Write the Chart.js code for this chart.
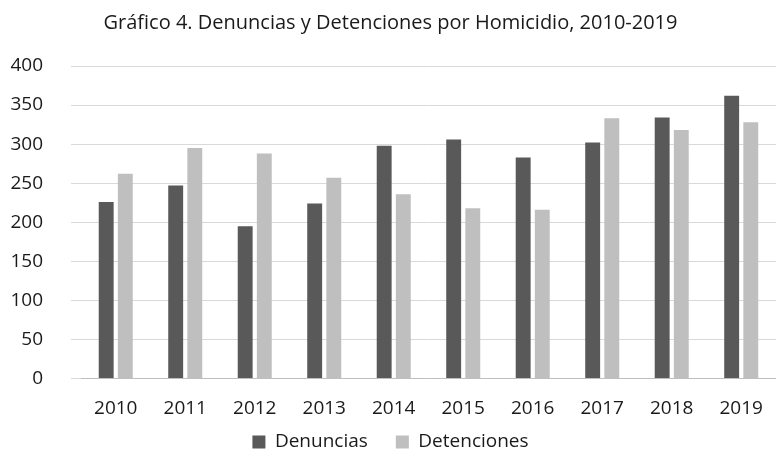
<!DOCTYPE html>
<html>
<head>
<meta charset="utf-8">
<script src="https://cdn.jsdelivr.net/npm/chart.js@4.4.1/dist/chart.umd.min.js"></script>
<style>
  html, body { margin: 0; padding: 0; background: #fff; }
  #wrap { width: 782px; height: 450px; }
</style>
</head>
<body>
<div id="wrap"><canvas id="chart"></canvas></div>
<script>
// DATA
const years = ['2010', '2011', '2012', '2013', '2014', '2015', '2016', '2017', '2018', '2019'];
const denuncias = [226, 247, 195, 224, 298, 306, 283, 302, 334, 362];
const detenciones = [262, 295, 288, 257, 236, 218, 216, 333, 318, 328];
const yTicks = [0, 50, 100, 150, 200, 250, 300, 350, 400];

const font = "'Open Sans', 'Noto Sans', sans-serif";

// wide gap between legend items without the tall legend box that comes with it
const legendGap = {
  id: 'legendGap',
  beforeLayout(chart) {
    const lg = chart.legend;
    if (!lg || lg._gapPatched) return;
    const fit = lg.fit.bind(lg);
    lg.fit = function () {
      fit();
      this.height -= 28.6;
    };
    const draw = lg._draw.bind(lg);
    lg._draw = function () {
      this.top -= 17.2;
      draw();
      this.top += 17.2;
    };
    lg._gapPatched = true;
  },
};

const chart = new Chart(document.querySelector('#chart'), {
  type: 'bar',
  data: {
    labels: years,
    datasets: [
      {
        label: 'Denuncias',
        data: denuncias,
        backgroundColor: '#595959',
        categoryPercentage: 0.55,
        barPercentage: 0.78,
      },
      {
        label: 'Detenciones',
        data: detenciones,
        backgroundColor: '#bfbfbf',
        categoryPercentage: 0.55,
        barPercentage: 0.78,
      },
    ],
  },
  options: {
    responsive: true,
    maintainAspectRatio: false,
    animation: false,
    layout: { padding: { left: 0, right: 1, top: 0, bottom: 0 } },
    plugins: {
      title: {
        display: true,
        text: 'Gráfico 4. Denuncias y Detenciones por Homicidio, 2010-2019',
        color: '#1a1a1a',
        font: { family: font, size: 20, weight: 'normal' },
        padding: { top: 11, bottom: 31 },
      },
      legend: {
        position: 'bottom',
        labels: {
          color: '#1a1a1a',
          font: { family: font, size: 19 },
          boxWidth: 13,
          boxHeight: 13,
          padding: 28,
        },
      },
      tooltip: { enabled: false },
    },
    scales: {
      x: {
        afterFit: (s) => { s.height = 43; },
        grid: { display: false, drawTicks: false },
        border: { color: '#bfbfbf' },
        ticks: { color: '#1a1a1a', font: { family: font, size: 19 }, padding: 19 },
      },
      y: {
        min: 0,
        max: 400,
        afterFit: (s) => { s.width = 81; },
        afterBuildTicks: (s) => { s.ticks = yTicks.map((v) => ({ value: v })); },
        grid: { color: '#d9d9d9', tickLength: 10, tickColor: '#d9d9d9' },
        border: { display: false },
        ticks: { color: '#1a1a1a', font: { family: font, size: 19 }, padding: 28 },
      },
    },
  },
  plugins: [legendGap],
});
</script>
</body>
</html>
